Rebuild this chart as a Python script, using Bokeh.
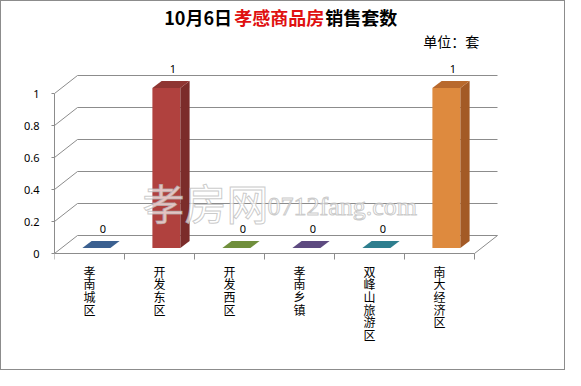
from bokeh.plotting import figure
from bokeh.models import Range1d, FixedTicker, CustomJSTickFormatter
from bokeh.core.properties import value
from bokeh.embed import file_html
from bokeh.resources import INLINE

# ---------------- data ----------------
categories = ["孝南城区", "开发东区", "开发西区", "孝南乡镇", "双峰山旅游区", "南大经济区"]
sales = [0, 1, 0, 0, 0, 1]
y_ticks = [0, 0.2, 0.4, 0.6, 0.8, 1]
title_parts = ["10月6日", "孝感商品房", "销售套数"]
unit_label = "单位：套"
watermark_cn = "孝房网"
watermark_en = "0712fang.com"

# ---------------- styles ----------------
front_colors = ["#3B6090", "#B0413E", "#708F3C", "#5D4A80", "#2E7E8E", "#DE8A3E"]
side_colors = ["#2A4668", "#7B2C2A", "#51682B", "#43355D", "#205C68", "#A35A26"]
top_colors = ["#3B6090", "#8F3532", "#708F3C", "#5D4A80", "#2E7E8E", "#B8692D"]
title_colors = ["#000000", "#E01010", "#000000"]
GRID = "#8c8c8c"
CJK = "Noto Sans CJK SC"

W, H = 565, 370
LEFT = 53          # canvas x of the front value axis
Y0 = 252           # canvas y of value 0 on the front plane
PXX = 70.0         # pixels per category
PXY = 160.0        # pixels per unit value


def dxp(px):
    return px / PXX


def dyp(px):
    return px / PXY


def cx(canvas_x):
    return (canvas_x - LEFT) / PXX


def cy(canvas_y):
    return (Y0 - canvas_y) / PXY


ystart = -(H - Y0) / PXY
p = figure(width=W, height=H,
           x_range=Range1d(0, (W - LEFT) / PXX),
           y_range=Range1d(ystart, ystart + H / PXY),
           output_backend="svg", toolbar_location=None,
           x_axis_location=None, y_axis_location="left",
           min_border_left=LEFT, min_border_right=0,
           min_border_top=0, min_border_bottom=0)
p.outline_line_color = None
p.grid.visible = False
p.background_fill_color = "white"
p.border_fill_color = "white"
p.styles = {"border": "1px solid #8c8c8c"}

ax = p.yaxis[0]
ax.ticker = FixedTicker(ticks=y_ticks)
ax.formatter = CustomJSTickFormatter(code="return tick.toString()")
ax.bounds = (0, 1)
ax.axis_line_color = GRID
ax.major_tick_line_color = GRID
ax.major_tick_out = 3
ax.major_tick_in = 0
ax.minor_tick_line_color = None
ax.major_label_standoff = 12
ax.major_label_text_font = "Noto Sans"
ax.major_label_text_font_size = "11px"
ax.major_label_text_color = "black"

n = len(categories)
DX = dxp(23)
DY = dyp(18)

# back wall gridlines and side diagonals
p.segment(x0=[DX] * len(y_ticks), y0=[v + DY for v in y_ticks],
          x1=[n + DX] * len(y_ticks), y1=[v + DY for v in y_ticks],
          line_color=GRID, line_width=1)
p.segment(x0=[0] * len(y_ticks), y0=y_ticks,
          x1=[DX] * len(y_ticks), y1=[v + DY for v in y_ticks],
          line_color=GRID, line_width=1)
# floor front edge and right diagonal
p.segment(x0=[0, n], y0=[0, 0], x1=[n, n + DX], y1=[0, DY],
          line_color=GRID, line_width=1)
# category tick marks (thin filled boxes)
tick_len = dyp(6)
p.quad(left=[k - dxp(0.5) for k in range(n + 1)],
       right=[k + dxp(0.5) for k in range(n + 1)],
       bottom=[-tick_len] * (n + 1), top=[0] * (n + 1),
       fill_color=GRID, line_color=None)

# bars
F1, F2 = 0.3, 0.7
ddx, ddy = (F2 - F1) * DX, (F2 - F1) * DY
front_xs, front_ys, front_c = [], [], []
side_xs, side_ys, side_c = [], [], []
top_xs, top_ys, top_c = [], [], []
for i, v in enumerate(sales):
    L = i + 0.3 + F1 * DX
    R = L + 0.4
    B = F1 * DY
    T = v + F1 * DY
    top_xs.append([L, R, R + ddx, L + ddx])
    top_ys.append([T, T, T + ddy, T + ddy])
    if v > 0:
        front_xs.append([L, R, R, L])
        front_ys.append([B, B, T, T])
        front_c.append(front_colors[i])
        side_xs.append([R, R + ddx, R + ddx, R])
        side_ys.append([B, B + ddy, T + ddy, T])
        side_c.append(side_colors[i])
        top_c.append(top_colors[i])
    else:
        top_c.append(front_colors[i])
p.patches(xs=front_xs, ys=front_ys, fill_color=front_c, line_color=None)
p.patches(xs=side_xs, ys=side_ys, fill_color=side_c, line_color=None)
p.patches(xs=top_xs, ys=top_ys, fill_color=top_c, line_color=None)

# data labels
p.text(x=[i + 0.5 + dxp(13.5) for i in range(n)],
       y=[v + F2 * DY + dyp(11.5) for v in sales],
       text=[str(v) for v in sales],
       text_align="center", text_baseline="middle",
       text_font=value("Noto Sans"), text_font_size="11px", text_color="black")

# vertical category labels
lx, ly, lt = [], [], []
for i, c in enumerate(categories):
    for k, ch in enumerate(c):
        lx.append(i + 0.5)
        ly.append(cy(269.7 + k * 12.6))
        lt.append(ch)
p.text(x=lx, y=ly, text=lt, text_align="center", text_baseline="middle",
       text_font=value(CJK), text_font_size="12px", text_color="black")

# watermark
p.text(x=[cx(204)], y=[cy(200)], text=[watermark_cn],
       text_align="center", text_baseline="middle",
       text_font=value(CJK), text_font_size="42px",
       text_color="white", text_alpha=0.7,
       text_outline_color="#b4b4b4")
p.text(x=[cx(266)], y=[cy(205)], text=[watermark_en],
       text_align="left", text_baseline="middle",
       text_font=value("Liberation Serif"), text_font_size="26px",
       text_color="white", text_alpha=0.7,
       text_outline_color="#b4b4b4")

# title
title_x = [cx(162.7), cx(232.7), cx(323.7)]
p.text(x=title_x, y=[cy(15)] * 3, text=title_parts,
       text_color=title_colors, text_align="left", text_baseline="middle",
       text_font=value(CJK), text_font_size="18px", text_font_style="bold")

# unit label
p.text(x=[cx(421.7)], y=[cy(39.3)], text=[unit_label],
       text_align="left", text_baseline="middle",
       text_font=value(CJK), text_font_size="14px", text_color="black")

open("out.html", "w").write(file_html(p, INLINE))
